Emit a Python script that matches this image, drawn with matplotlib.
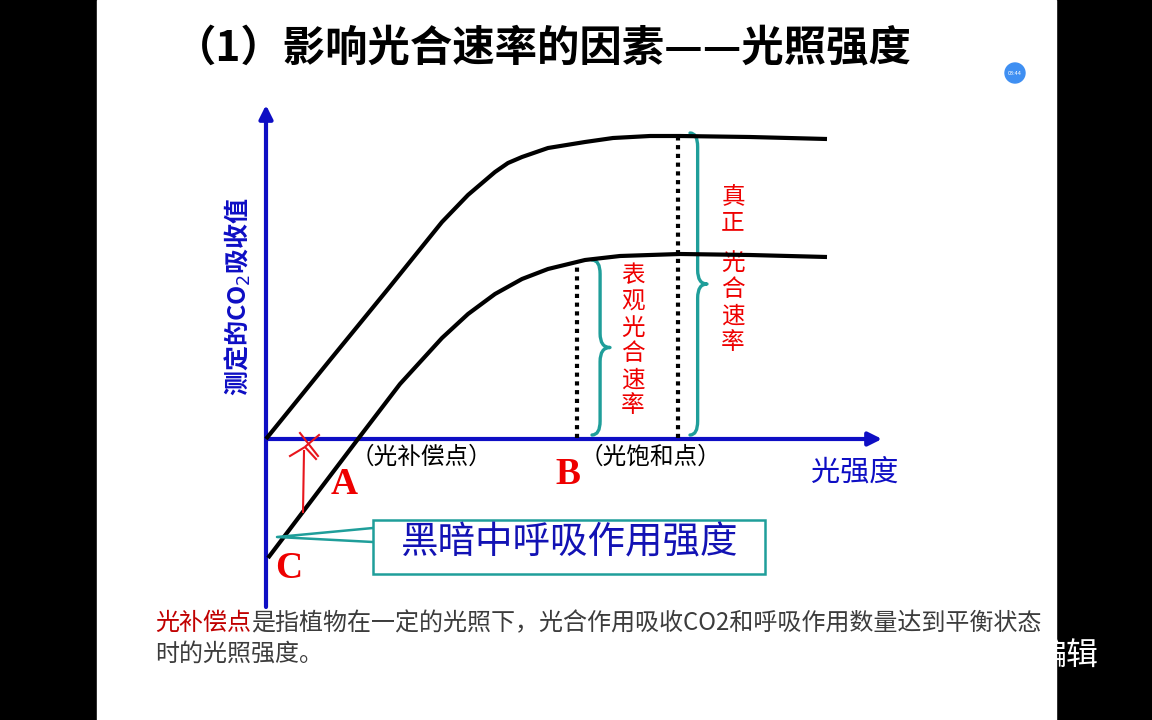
import matplotlib
matplotlib.use("Agg")
import matplotlib.pyplot as plt
from matplotlib.patches import Rectangle, Circle, PathPatch
from matplotlib.path import Path

plt.rcParams["font.family"] = ["Noto Sans CJK SC", "DejaVu Sans"]

# light intensity (x) vs measured CO2 uptake (y), arbitrary units
light_true = [0, 6.4, 12.2, 17.6, 20.2, 22.9, 24.2, 25.6, 28.2, 31.9, 34.7, 38.4, 41.4, 48.4, 56.1]
co2_true = [0, 7.9, 15.0, 21.7, 24.4, 26.7, 27.6, 28.2, 29.1, 29.7, 30.1, 30.3, 30.3, 30.2, 30.0]
light_net = [0.2, 9.2, 13.4, 17.6, 20.2, 22.9, 25.6, 28.2, 31.9, 35.4, 41.4, 48.4, 56.1]
co2_net = [-11.9, 0, 5.5, 10.1, 12.5, 14.5, 16.0, 17.0, 17.9, 18.3, 18.5, 18.4, 18.2]

comp_point = 9.2      # A
sat_point = 31.1      # B
true_marker = 41.2
x_axis_end = 61.6
y_axis_range = (-16.8, 33.4)

title = "（1）影响光合速率的因素——光照强度"
ylabel = "测定的CO$_2$吸收值"
xlabel = "光强度"
comp_label = "（光补偿点）"
sat_label = "（光饱和点）"
callout = "黑暗中呼吸作用强度"
net_label = "表观光合速率"
true_label = ["真正", "光合速率"]
note_red = "光补偿点"
note_rest = "是指植物在一定的光照下，光合作用吸收CO2和呼吸作用数量达到平衡状态"
note_line2 = "时的光照强度。"

BLUE = "#0e0ec4"
TEAL = "#1f9e9a"
RED = "#ee0000"

fig = plt.figure(figsize=(11.52, 7.2), dpi=100)
fig.patch.set_facecolor("black")

bg = fig.add_axes([0, 0, 1, 1])
bg.set_xlim(0, 1152)
bg.set_ylim(720, 0)
bg.axis("off")
bg.text(1099, 657, "编辑", color="white", fontsize=23, ha="right", va="center", zorder=1)
bg.add_patch(Rectangle((97, 0), 959, 720, color="white", zorder=2))
bg.add_patch(Circle((1015, 73), 10, color="#3f8ff2", zorder=3))
bg.text(1015, 73.5, "03:44", color="white", fontsize=4, ha="center", va="center", zorder=4)

bg.text(543, 48, title, fontsize=30.5, fontweight="bold", ha="center", va="center", zorder=5)

# data axes, 1 unit = 10 px, origin at pixel (266, 439)
ax = fig.add_axes([0, 0, 1, 1])
ax.set_xlim(-26.6, 88.6)
ax.set_ylim(-28.1, 43.9)
ax.axis("off")
ax.patch.set_alpha(0)

# axes with arrows
ax.annotate("", xy=(0, y_axis_range[1]), xytext=(0, y_axis_range[0]),
            arrowprops=dict(arrowstyle="-|>", color=BLUE, lw=3, mutation_scale=20,
                            shrinkA=0, shrinkB=0))
ax.annotate("", xy=(x_axis_end, 0), xytext=(0, 0),
            arrowprops=dict(arrowstyle="-|>", color=BLUE, lw=3, mutation_scale=20,
                            shrinkA=0, shrinkB=0))

ax.plot(light_true, co2_true, color="black", lw=3, solid_capstyle="butt",
        solid_joinstyle="round", zorder=4)
ax.plot(light_net, co2_net, color="black", lw=3, solid_capstyle="butt",
        solid_joinstyle="round", zorder=4)

# dotted markers
ax.plot([sat_point, sat_point], [0.1, 17.8], color="black", lw=3, ls=(0, (1, 1.1)), zorder=3)
ax.plot([true_marker, true_marker], [0.1, 30.6], color="black", lw=3, ls=(0, (1, 1.1)), zorder=3)


def brace(x0, x1, y0, y1, r=1.4):
    xm = x0 + 0.45 * (x1 - x0)
    ym = (y0 + y1) / 2
    verts = [(x0, y1), (xm, y1), (xm, y1 - r),
             (xm, ym + r),
             (xm, ym), (x1, ym),
             (xm, ym), (xm, ym - r),
             (xm, y0 + r),
             (xm, y0), (x0, y0)]
    codes = [Path.MOVETO, Path.CURVE3, Path.CURVE3,
             Path.LINETO,
             Path.CURVE3, Path.CURVE3,
             Path.CURVE3, Path.CURVE3,
             Path.LINETO,
             Path.CURVE3, Path.CURVE3]
    ax.add_patch(PathPatch(Path(verts, codes), fill=False, ec=TEAL, lw=2.4,
                           capstyle="round", joinstyle="round"))


brace(32.6, 34.4, 0.4, 17.9)
brace(42.4, 44.1, 0.4, 30.6)

# vertical red labels
for i, ch in enumerate(net_label):
    ax.text(36.7, 16.3 - i * 2.6, ch, color=RED, fontsize=17, ha="center", va="center")
for i, ch in enumerate(true_label[0]):
    ax.text(46.7, 24.2 - i * 2.6, ch, color=RED, fontsize=17, ha="center", va="center")
for i, ch in enumerate(true_label[1]):
    ax.text(46.7, 17.6 - i * 2.65, ch, color=RED, fontsize=17, ha="center", va="center")

# hand drawn red pen marks
pen_strokes = [
    [(3.7, -7.3), (3.8, -1.2)],
    [(2.4, -1.7), (3.9, -0.8), (5.0, -2.0)],
    [(3.4, 0.6), (5.2, -1.7)],
    [(5.3, 0.4), (4.0, -0.7)],
]
for stroke in pen_strokes:
    xs, ys = zip(*stroke)
    ax.plot(xs, ys, color="#e8151c", lw=1.5, zorder=5)

# axis labels and point labels
ax.text(-2.8, 14.2, ylabel, color=BLUE, fontsize=18, fontweight="bold", rotation=90,
        ha="center", va="center")
ax.text(58.9, -3.4, xlabel, color=BLUE, fontsize=21, ha="center", va="center")
ax.text(15.5, -1.8, comp_label, fontsize=17, ha="center", va="center")
ax.text(38.4, -1.8, sat_label, fontsize=17, ha="center", va="center")
serif = dict(family="Liberation Serif", fontweight="bold", color=RED, fontsize=27,
             ha="center", va="center")
ax.text(7.8, -4.5, "A", **serif)
ax.text(30.2, -3.6, "B", **serif)
ax.text(2.3, -13.0, "C", **serif)

# callout box
ax.plot([10.7, 1.1, 10.7], [-8.9, -9.8, -10.3], color=TEAL, lw=1.8, zorder=5)
ax.add_patch(Rectangle((10.7, -13.5), 39.2, 5.4, fc="white", ec=TEAL, lw=1.8, zorder=6))
ax.text(30.4, -10.4, callout, color="#1212b4", fontsize=27, ha="center", va="center", zorder=7)

# footnote
t1 = bg.text(155, 623, note_red, color="#c00000", fontsize=17.3, ha="left", va="center", zorder=5)
bg.annotate(note_rest, xy=(1, 0.5), xycoords=t1, color="#3c3c3c", fontsize=17.3,
            ha="left", va="center", zorder=5)
bg.text(155, 654, note_line2, color="#3c3c3c", fontsize=17.3, ha="left", va="center", zorder=5)

fig.savefig("out.png", dpi=100, facecolor=fig.get_facecolor())
